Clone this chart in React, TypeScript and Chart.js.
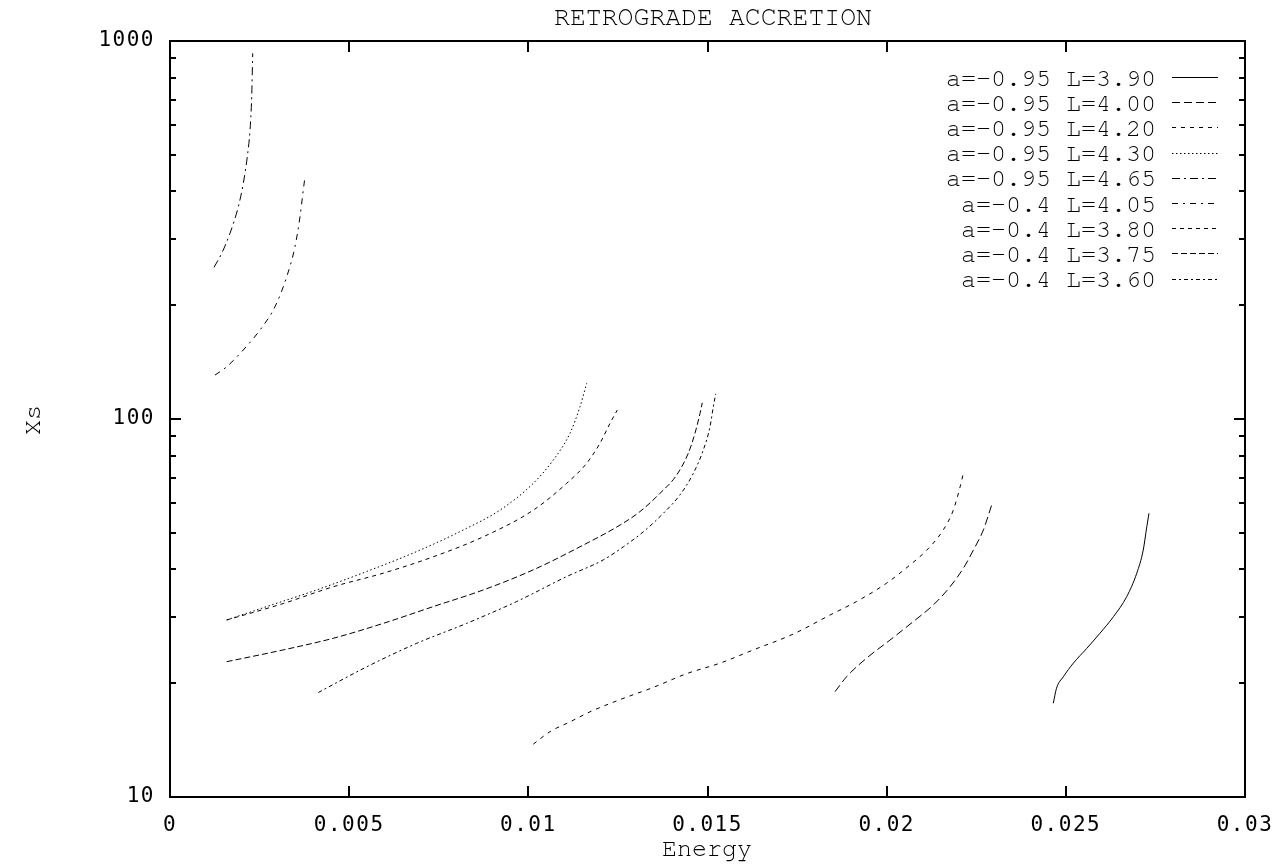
import React, { useEffect, useRef } from "react";
import { Chart, registerables } from "chart.js";

Chart.register(...registerables);

const TITLE = "RETROGRADE ACCRETION";
const X_LABEL = "Energy";
const Y_LABEL = "Xs";

const xTicks = [0, 0.005, 0.01, 0.015, 0.02, 0.025, 0.03];
const yDecades = [10, 100, 1000];

const seriesLabels = [
  "a=-0.95 L=3.90",
  "a=-0.95 L=4.00",
  "a=-0.95 L=4.20",
  "a=-0.95 L=4.30",
  "a=-0.95 L=4.65",
  "a=-0.4 L=4.05",
  "a=-0.4 L=3.80",
  "a=-0.4 L=3.75",
  "a=-0.4 L=3.60",
];

// a=-0.95 L=3.90
const energyA095L390 = [0.02465, 0.02474, 0.02493, 0.02521, 0.02558, 0.02595, 0.02633, 0.0267, 0.02698, 0.02716, 0.02726, 0.02732];
const xsA095L390 = [17.7, 19.4, 20.8, 22.6, 24.7, 27.1, 30.0, 33.9, 39.1, 45.0, 51.9, 56.3];

// a=-0.95 L=4.00
const energyA095L400 = [0.01856, 0.01888, 0.01944, 0.02009, 0.02074, 0.0213, 0.02177, 0.02214, 0.02242, 0.0227, 0.02284, 0.02293];
const xsA095L400 = [19.0, 20.8, 23.3, 26.0, 29.1, 32.2, 36.0, 40.3, 45.0, 50.9, 55.7, 59.2];

// a=-0.95 L=4.20
const energyA095L420 = [0.01014, 0.01061, 0.01116, 0.01172, 0.01256, 0.01349, 0.01442, 0.01535, 0.01628, 0.0174, 0.01842, 0.01916, 0.02, 0.02065, 0.02112, 0.02158, 0.02186, 0.02205, 0.02214];
const xsA095L420 = [13.8, 14.9, 15.8, 16.8, 18.1, 19.5, 21.2, 22.6, 24.5, 27.0, 30.3, 32.9, 36.8, 41.1, 45.0, 50.9, 57.4, 66.2, 71.8];

// a=-0.95 L=4.30
const energyA095L430 = [0.001582, 0.002699, 0.004094, 0.005489, 0.006885, 0.00828, 0.009209, 0.010139, 0.010697, 0.011163, 0.011442, 0.011629];
const xsA095L430 = [29.4, 31.9, 35.3, 39.5, 44.6, 51.4, 57.4, 67.6, 77.9, 91.7, 107.8, 124.3];

// a=-0.95 L=4.65
const energyA095L465 = [0.001228, 0.001443, 0.001674, 0.001906, 0.002046, 0.002157, 0.002233, 0.00228, 0.002308];
const xsA095L465 = [251.9, 274.4, 309.9, 364.4, 420.3, 494.2, 581.5, 712.4, 927.8];

// a=-0.4 L=4.05
const energyA04L405 = [0.001256, 0.001582, 0.002046, 0.002512, 0.00293, 0.003257, 0.003488, 0.003628, 0.00372, 0.003767];
const xsA04L405 = [130.7, 137.5, 152.3, 172.0, 198.2, 237.9, 285.7, 343.0, 403.6, 437.5];

// a=-0.4 L=3.80
const energyA04L380 = [0.001582, 0.003162, 0.004557, 0.005953, 0.007348, 0.008743, 0.010139, 0.011071, 0.011629, 0.012, 0.012279, 0.012483];
const xsA04L380 = [29.4, 32.5, 36.0, 39.1, 43.2, 48.8, 57.4, 67.6, 76.4, 86.3, 97.4, 105.6];

// a=-0.4 L=3.75
const energyA04L375 = [0.001582, 0.003162, 0.004557, 0.005953, 0.007348, 0.008743, 0.010139, 0.011534, 0.012558, 0.013116, 0.013675, 0.01414, 0.014464, 0.014651, 0.014791, 0.014855];
const xsA04L375 = [22.8, 24.5, 26.3, 28.8, 31.9, 35.3, 39.9, 46.4, 52.4, 56.9, 63.6, 71.1, 81.2, 91.7, 103.5, 110.4];

// a=-0.4 L=3.60
const energyA04L360 = [0.004139, 0.005489, 0.006885, 0.00828, 0.009675, 0.011071, 0.012093, 0.012651, 0.013209, 0.013767, 0.014233, 0.014604, 0.014883, 0.01507, 0.015162, 0.015229];
const xsA04L360 = [18.9, 22.1, 25.5, 28.8, 32.9, 38.3, 42.4, 45.9, 50.3, 56.3, 63.0, 71.8, 82.8, 95.4, 107.8, 116.5];

const seriesEnergy = [energyA095L390, energyA095L400, energyA095L420, energyA095L430, energyA095L465, energyA04L405, energyA04L380, energyA04L375, energyA04L360];
const seriesXs = [xsA095L390, xsA095L400, xsA095L420, xsA095L430, xsA095L465, xsA04L405, xsA04L380, xsA04L375, xsA04L360];

const dashPatterns: number[][] = [
  [],
  [8, 4],
  [4, 5],
  [1.5, 2.5],
  [8, 4, 2, 4],
  [6, 5, 2, 5],
  [4, 4],
  [6, 3],
  [4, 3, 2, 3],
];

const MONO = "'Nimbus Mono PS', 'Nimbus Mono L', FreeMono, Courier, 'Courier New', 'Liberation Mono', monospace";
const TICKFONT = "'DejaVu Sans Mono', monospace";

function fmtX(v: number): string {
  return String(Number(v.toFixed(4)));
}

const decorPlugin = {
  id: "decor",
  beforeDraw(chart: any) {
    chart.ctx.letterSpacing = "1.5px";
  },
  afterDraw(chart: any) {
    const ctx = chart.ctx as CanvasRenderingContext2D;
    const { left, right, top, bottom } = chart.chartArea;
    const xs = chart.scales.x;
    const ys = chart.scales.y;
    ctx.save();
    (ctx as any).letterSpacing = "0px";
    ctx.strokeStyle = "#000";
    ctx.fillStyle = "#000";
    ctx.setLineDash([]);

    // ticks (inward, mirrored)
    ctx.lineWidth = 2;
    ctx.beginPath();
    for (const v of xTicks) {
      const px = Math.round(xs.getPixelForValue(v));
      ctx.moveTo(px, bottom);
      ctx.lineTo(px, bottom - 11);
      ctx.moveTo(px, top);
      ctx.lineTo(px, top + 11);
    }
    for (const t of ys.ticks) {
      const v = t.value;
      const py = Math.round(ys.getPixelForValue(v));
      const len = yDecades.includes(v) ? 11 : 6;
      ctx.moveTo(left, py);
      ctx.lineTo(left + len, py);
      ctx.moveTo(right, py);
      ctx.lineTo(right - len, py);
    }
    ctx.stroke();

    // frame
    ctx.lineWidth = 2;
    ctx.strokeRect(left, top, right - left, bottom - top);

    // legend
    ctx.font = `25px ${MONO}`;
    ctx.textAlign = "right";
    ctx.textBaseline = "middle";
    chart.data.datasets.forEach((ds: any, i: number) => {
      const yy = 77 + i * 25.2;
      ctx.fillText(ds.label, 1156, yy + 1);
      ctx.save();
      ctx.lineWidth = 1;
      ctx.setLineDash(ds.borderDash || []);
      ctx.beginPath();
      ctx.moveTo(1172, Math.round(yy) + 0.5);
      ctx.lineTo(1218, Math.round(yy) + 0.5);
      ctx.stroke();
      ctx.restore();
    });

    // title and axis titles
    ctx.textAlign = "center";
    ctx.textBaseline = "alphabetic";
    ctx.font = `26.5px ${MONO}`;
    ctx.fillText(TITLE, 713, 25);
    ctx.font = `25px ${MONO}`;
    ctx.fillText(X_LABEL, 707, 856);
    ctx.save();
    ctx.translate(40, 420);
    ctx.rotate(-Math.PI / 2);
    ctx.fillText(Y_LABEL, 0, 0);
    ctx.restore();

    ctx.restore();
  },
};

export default function App() {
  const ref = useRef<HTMLCanvasElement | null>(null);

  useEffect(() => {
    if (!ref.current) return;
    const datasets = seriesLabels.map((label, i) => ({
      label,
      data: seriesEnergy[i].map((e, j) => ({ x: e, y: seriesXs[i][j] })),
      borderColor: "#000",
      backgroundColor: "#000",
      borderWidth: 1,
      borderDash: dashPatterns[i],
      pointRadius: 0,
      fill: false,
      cubicInterpolationMode: "monotone" as const,
    }));

    const yTickValues: number[] = [];
    for (const d of yDecades.slice(0, -1)) {
      for (let k = 1; k <= 9; k++) yTickValues.push(k * d);
    }
    yTickValues.push(yDecades[yDecades.length - 1]);

    const chart = new Chart(ref.current, {
      type: "line",
      data: { datasets },
      options: {
        animation: false,
        responsive: false,
        maintainAspectRatio: false,
        devicePixelRatio: 1,
        layout: { padding: { left: 0, top: 41, right: 34, bottom: 0 } },
        plugins: {
          legend: { display: false },
          title: { display: false },
          tooltip: { enabled: false },
        },
        scales: {
          x: {
            type: "linear",
            min: 0,
            max: 0.03,
            grid: { display: false, drawTicks: false },
            border: { display: false },
            afterBuildTicks: (s: any) => {
              s.ticks = xTicks.map((v) => ({ value: v }));
            },
            afterFit: (s: any) => {
              s.height = 69;
              s.paddingLeft = 0;
              s.paddingRight = 0;
            },
            ticks: {
              autoSkip: false,
              maxRotation: 0,
              padding: 16,
              color: "#000",
              font: { family: TICKFONT, size: 21 },
              callback: (v: any) => fmtX(Number(v)),
            },
          },
          y: {
            type: "logarithmic",
            min: 10,
            max: 1000,
            grid: { display: false, drawTicks: false },
            border: { display: false },
            afterBuildTicks: (s: any) => {
              s.ticks = yTickValues.map((v) => ({ value: v, major: yDecades.includes(v) }));
            },
            afterFit: (s: any) => {
              s.width = 170;
              s.paddingTop = 0;
              s.paddingBottom = 0;
            },
            ticks: {
              autoSkip: false,
              padding: 15,
              color: "#000",
              font: { family: TICKFONT, size: 21 },
              callback: (v: any) => (yDecades.includes(Number(v)) ? String(v) : ""),
            },
          },
        },
      },
      plugins: [decorPlugin],
    });
    return () => chart.destroy();
  }, []);

  return (
    <div style={{ position: "absolute", left: 0, top: 0, width: 1279, height: 866, background: "#fff" }}>
      <canvas ref={ref} width={1279} height={866} style={{ display: "block" }} />
    </div>
  );
}
